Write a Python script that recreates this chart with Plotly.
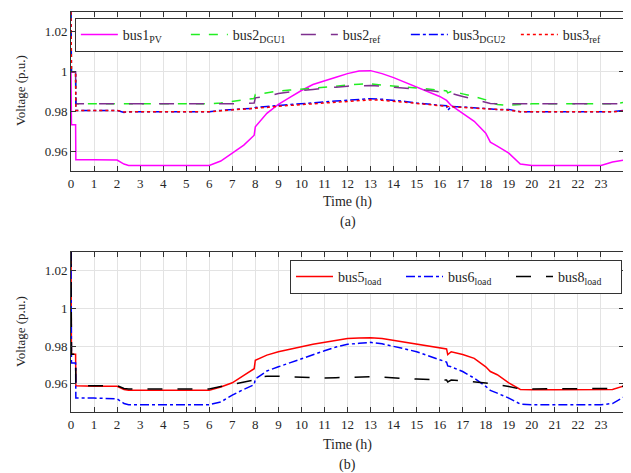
import plotly.graph_objects as go
from plotly.subplots import make_subplots

# time (h)
t = [0, 0.02, 0.2, 0.21, 1, 2, 2.3, 2.5, 3, 4, 5, 6, 6.5, 7, 7.5, 7.95, 8.0, 8.5, 9, 9.5,
     10, 10.5, 11, 11.5, 12, 12.5, 13, 13.5, 14, 14.5, 15, 15.5, 16, 16.3, 16.35, 16.5,
     17, 17.5, 18, 18.2, 18.5, 19, 19.5, 20, 21, 22, 23, 23.5, 24]

# panel (a)
bus1_pv = [1.0, 0.9733, 0.9733, 0.9557, 0.9557, 0.9555, 0.9535, 0.9528, 0.9528, 0.9528, 0.9528, 0.9528,
           0.955, 0.9588, 0.963, 0.968, 0.9722, 0.979, 0.9835, 0.987, 0.9905, 0.9935, 0.9955, 0.9972,
           0.999, 1.0003, 1.0005, 0.999, 0.997, 0.9947, 0.992, 0.9898, 0.9875, 0.9855, 0.9848, 0.983,
           0.979, 0.975, 0.969, 0.9645, 0.9625, 0.959, 0.9535, 0.9528, 0.9528, 0.9528, 0.9528, 0.9545, 0.9555]
bus2_dgu1 = [1.03, 1.0, 1.0, 0.9838, 0.9838, 0.9838, 0.9835, 0.9838, 0.9838, 0.9838, 0.9838, 0.9838,
             0.9842, 0.985, 0.986, 0.9865, 0.9885, 0.9895, 0.9902, 0.9907, 0.9912, 0.9918, 0.9925, 0.993,
             0.9935, 0.9937, 0.9938, 0.9932, 0.9927, 0.9922, 0.9917, 0.9913, 0.9905, 0.9903, 0.9893, 0.99,
             0.9888, 0.9875, 0.9858, 0.9845, 0.9835, 0.983, 0.9835, 0.9838, 0.9838, 0.9838, 0.9838, 0.9838, 0.9845]
bus2_ref = [1.0, 1.0, 1.0, 0.9838, 0.9838, 0.9838, 0.9836, 0.9838, 0.9838, 0.9838, 0.9838, 0.9838,
            0.9838, 0.9838, 0.984, 0.9842, 0.9868, 0.9875, 0.989, 0.9898, 0.9905, 0.991, 0.9917, 0.9922,
            0.9927, 0.9928, 0.993, 0.9927, 0.9922, 0.9917, 0.9913, 0.9906, 0.9898, 0.9895, 0.9893, 0.989,
            0.9875, 0.9862, 0.9847, 0.984, 0.9838, 0.9838, 0.9838, 0.9838, 0.9838, 0.9838, 0.9838, 0.9838, 0.9838]
bus3_dgu2 = [1.03, 1.0, 1.0, 0.9805, 0.9805, 0.9805, 0.9795, 0.9798, 0.9798, 0.9798, 0.9798, 0.9798,
             0.9805, 0.981, 0.9813, 0.9815, 0.982, 0.9825, 0.983, 0.9835, 0.9838, 0.9843, 0.9848, 0.9852,
             0.9856, 0.986, 0.9864, 0.9861, 0.9856, 0.985, 0.9842, 0.9836, 0.983, 0.9828, 0.9805, 0.9825,
             0.9822, 0.9818, 0.9813, 0.981, 0.981, 0.981, 0.9798, 0.9798, 0.9798, 0.9798, 0.9798, 0.9798, 0.9805]
bus3_ref = [1.03, 1.0, 1.0, 0.9805, 0.9805, 0.9805, 0.9797, 0.9798, 0.9798, 0.9798, 0.9798, 0.9798,
            0.9803, 0.9807, 0.981, 0.9812, 0.9815, 0.982, 0.9826, 0.983, 0.9834, 0.9838, 0.9843, 0.9847,
            0.9851, 0.9855, 0.9858, 0.9856, 0.9852, 0.9846, 0.984, 0.9834, 0.9828, 0.9826, 0.9824, 0.9823,
            0.982, 0.9816, 0.9812, 0.981, 0.9808, 0.9806, 0.9798, 0.9798, 0.9798, 0.9798, 0.9798, 0.9798, 0.9802]

# panel (b)
bus5_load = [1.03, 0.9757, 0.9757, 0.9589, 0.9587, 0.9587, 0.957, 0.9565, 0.9565, 0.9565, 0.9565, 0.9565,
             0.9583, 0.9605, 0.9645, 0.968, 0.9725, 0.9752, 0.977, 0.9785, 0.9797, 0.981, 0.982, 0.983,
             0.984, 0.9843, 0.9845, 0.984, 0.983, 0.982, 0.981, 0.98, 0.979, 0.9785, 0.9755, 0.977,
             0.9755, 0.9735, 0.969, 0.9665, 0.9648, 0.9605, 0.957, 0.9568, 0.9568, 0.9568, 0.9568, 0.957, 0.9588]
bus6_load = [1.03, 0.971, 0.971, 0.9524, 0.9524, 0.952, 0.9495, 0.9489, 0.9489, 0.9489, 0.9489, 0.9489,
             0.9503, 0.954, 0.957, 0.9595, 0.9625, 0.9668, 0.969, 0.9712, 0.9735, 0.9755, 0.9775, 0.9795,
             0.981, 0.9815, 0.982, 0.9812, 0.98, 0.9785, 0.977, 0.975, 0.9727, 0.9715, 0.9695, 0.969,
             0.9665, 0.963, 0.9586, 0.9565, 0.955, 0.9524, 0.9492, 0.9489, 0.9489, 0.9489, 0.9489, 0.9495, 0.953]
bus8_load = [1.03, 0.9757, 0.9757, 0.959, 0.959, 0.959, 0.9575, 0.9572, 0.9572, 0.9572, 0.9572, 0.9572,
             0.9585, 0.9598, 0.9609, 0.962, 0.9635, 0.964, 0.964, 0.9637, 0.9634, 0.9632, 0.963, 0.9632,
             0.9633, 0.9634, 0.9638, 0.9635, 0.963, 0.9628, 0.9625, 0.9623, 0.9621, 0.962, 0.961, 0.962,
             0.9616, 0.9612, 0.9604, 0.96, 0.9595, 0.9586, 0.9572, 0.9572, 0.9572, 0.9572, 0.9572, 0.9575, 0.9588]

x_ticks = list(range(0, 24))
y_ticks = [0.96, 0.98, 1.0, 1.02]
y_tick_text = ["0.96", "0.98", "1", "1.02"]

FONT = "Liberation Serif, Times New Roman, Times, DejaVu Serif, serif"
TXT = "#262626"

fig = make_subplots(rows=2, cols=1, vertical_spacing=0.2)

top = [
    ("bus1<sub>PV</sub>", bus1_pv, "#ff00ff", "solid"),
    ("bus2<sub>DGU1</sub>", bus2_dgu1, "#22ee22", "dash"),
    ("bus2<sub>ref</sub>", bus2_ref, "#7e2f8e", "longdash"),
    ("bus3<sub>DGU2</sub>", bus3_dgu2, "#0000ff", "dashdot"),
    ("bus3<sub>ref</sub>", bus3_ref, "#ff0000", "dot"),
]
for name, ys, col, dash in top:
    fig.add_trace(go.Scatter(x=t, y=ys, name=name, mode="lines",
                             line=dict(color=col, dash=dash, width=1.5),
                             legend="legend"), row=1, col=1)

bottom = [
    ("bus5<sub>load</sub>", bus5_load, "#ff0000", "solid"),
    ("bus6<sub>load</sub>", bus6_load, "#0000ff", "dashdot"),
    ("bus8<sub>load</sub>", bus8_load, "#000000", "longdash"),
]
for name, ys, col, dash in bottom:
    fig.add_trace(go.Scatter(x=t, y=ys, name=name, mode="lines",
                             line=dict(color=col, dash=dash, width=1.5),
                             legend="legend2"), row=2, col=1)

axis_common = dict(showline=True, linecolor="#333", linewidth=1, mirror="ticks",
                   ticks="inside", ticklen=5, tickcolor="#333",
                   showgrid=True, gridcolor="#e3e3e3", gridwidth=1, zeroline=False,
                   tickfont=dict(family=FONT, size=13, color=TXT))

fig.update_xaxes(range=[0, 24], tickvals=x_ticks, **axis_common)
fig.update_yaxes(tickvals=y_ticks, ticktext=y_tick_text, **axis_common)
fig.update_yaxes(range=[0.95, 1.03], row=1, col=1)
fig.update_yaxes(range=[0.945, 1.03], row=2, col=1)
fig.update_layout(
    xaxis=dict(domain=[0, 1]), xaxis2=dict(domain=[0, 1]),
    yaxis=dict(domain=[0.6025, 1.0]), yaxis2=dict(domain=[0.0, 0.4]),
)

# page body adds an 8px offset; figure sized to fit the 631x473 window
fig.update_layout(
    width=623, height=465,
    margin=dict(l=63, r=7, t=4, b=61),
    paper_bgcolor="white", plot_bgcolor="white",
    font=dict(family=FONT, size=14, color=TXT),
    legend=dict(orientation="h", x=0.007, y=0.985, xanchor="left", yanchor="top",
                bgcolor="white", bordercolor="#333", borderwidth=1,
                itemwidth=37, entrywidth=58, entrywidthmode="pixels",
                font=dict(family=FONT, size=14, color=TXT)),
    legend2=dict(orientation="h", x=(290 - 71) / 553, y=0.38, xanchor="left", yanchor="top",
                 bgcolor="white", bordercolor="#333", borderwidth=1,
                 itemwidth=37, entrywidth=58, entrywidthmode="pixels",
                 font=dict(family=FONT, size=14, color=TXT)),
    showlegend=True,
)

ann_font = dict(family=FONT, size=14, color=TXT)
anns = [
    ("Time (h)", 0.5, (412 - 202) / 400),
    ("(a)", 0.5, (412 - 222) / 400),
    ("Time (h)", 0.5, (412 - 445) / 400),
    ("(b)", 0.5, (412 - 465) / 400),
]
for txt, xx, yy in anns:
    fig.add_annotation(text=txt, x=xx, y=yy, xref="paper", yref="paper", showarrow=False,
                       font=ann_font, xanchor="center", yanchor="middle")
for yy in [(412 - 91) / 400, (412 - 332) / 400]:
    fig.add_annotation(text="Voltage (p.u.)", x=-51 / 553, y=yy, xref="paper", yref="paper",
                       showarrow=False, textangle=-90, font=dict(family=FONT, size=13, color=TXT),
                       xanchor="center", yanchor="middle")

fig.write_html("out.html")
